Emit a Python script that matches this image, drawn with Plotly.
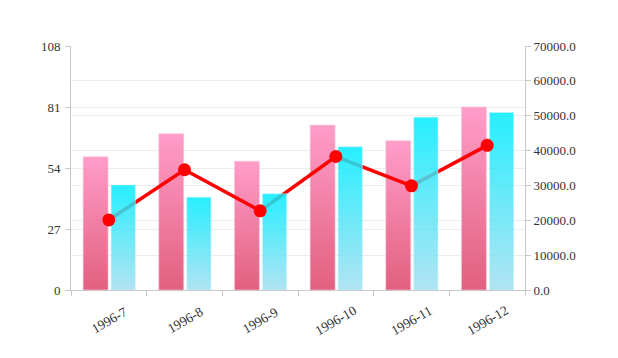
import plotly.graph_objects as go

categories = ["1996-7", "1996-8", "1996-9", "1996-10", "1996-11", "1996-12"]
pink_values = [59, 69.2, 57, 73, 66.1, 81]
cyan_values = [46.5, 41.1, 42.6, 63.4, 76.5, 78.6]
line_values = [20100, 34500, 22700, 38300, 29900, 41500]
left_ticks = [0, 27, 54, 81, 108]
right_ticks = [0, 10000, 20000, 30000, 40000, 50000, 60000, 70000]
right_tick_text = ["0.0", "10000.0", "20000.0", "30000.0", "40000.0", "50000.0", "60000.0", "70000.0"]

FONT = dict(family="Liberation Serif, DejaVu Serif, serif", size=13, color="#333")
XFONT = dict(family="Liberation Serif, DejaVu Serif, serif", size=13.5, color="#333")
PINK_SCALE = [[0, "#e2607f"], [1, "#ff9dc9"]]
CYAN_SCALE = [[0, "rgba(160,222,240,0.82)"], [1, "rgba(0,236,255,0.85)"]]

fig = go.Figure()

def bar_poly(i, v, off, w, yaxis, scale, edge):
    x0 = i + off
    x1 = i + off + w
    return go.Scatter(
        x=[x0, x0, x1, x1, x0], y=[0, v, v, 0, 0],
        mode="lines", fill="toself", line=dict(width=1, color=edge),
        fillgradient=dict(type="vertical", colorscale=scale),
        yaxis=yaxis, hoverinfo="skip", showlegend=False,
    )

for i, v in enumerate(pink_values):
    fig.add_trace(bar_poly(i, v, -0.34, 0.33, "y", PINK_SCALE, "rgba(255,200,225,0.6)"))

fig.add_trace(go.Scatter(
    x=list(range(len(categories))), y=line_values, mode="lines",
    line=dict(color="#ff0000", width=3.5), yaxis="y2",
    hoverinfo="skip", showlegend=False,
))

for i, v in enumerate(cyan_values):
    fig.add_trace(bar_poly(i, v, 0.03, 0.32, "y3", CYAN_SCALE, "rgba(200,245,255,0.5)"))

fig.add_trace(go.Scatter(
    x=list(range(len(categories))), y=line_values, mode="markers",
    marker=dict(color="#ff0000", size=13), yaxis="y4",
    hoverinfo="skip", showlegend=False,
))

for i, c in enumerate(categories):
    fig.add_annotation(
        x=i, xref="x", y=0, yref="paper", yshift=-30,
        text=c, showarrow=False, textangle=-30,
        xanchor="center", yanchor="middle", font=XFONT,
    )

fig.update_layout(
    width=618, height=358,
    margin=dict(l=63, r=101, t=38, b=76, autoexpand=False),
    paper_bgcolor="white", plot_bgcolor="white",
    font=FONT,
    xaxis=dict(
        range=[-0.5, 5.5], tickmode="array", tickvals=list(range(len(categories))),
        showticklabels=False, ticks="", showgrid=False,
        showline=True, linecolor="#c8c8c8", linewidth=1, zeroline=False,
        minor=dict(tickmode="linear", tick0=0.5, dtick=1, ticks="outside",
                   ticklen=5, tickcolor="#c8c8c8", showgrid=False),
    ),
    yaxis=dict(
        range=[0, 108], tickmode="array", tickvals=left_ticks,
        ticks="outside", ticklen=5, tickcolor="#c8c8c8", ticklabelstandoff=2,
        showgrid=True, gridcolor="#ececec", showline=True, linecolor="#c8c8c8",
        zeroline=False,
    ),
    yaxis2=dict(
        range=[0, 70000], tickmode="array", tickvals=right_ticks, ticktext=right_tick_text,
        overlaying="y", side="right", ticks="outside", ticklen=5, tickcolor="#c8c8c8",
        showgrid=True, gridcolor="#ececec", showline=True, linecolor="#c8c8c8",
        zeroline=False,
    ),
    yaxis3=dict(range=[0, 108], overlaying="y", visible=False),
    yaxis4=dict(range=[0, 70000], overlaying="y", visible=False),
)

fig.write_html("out.html")
